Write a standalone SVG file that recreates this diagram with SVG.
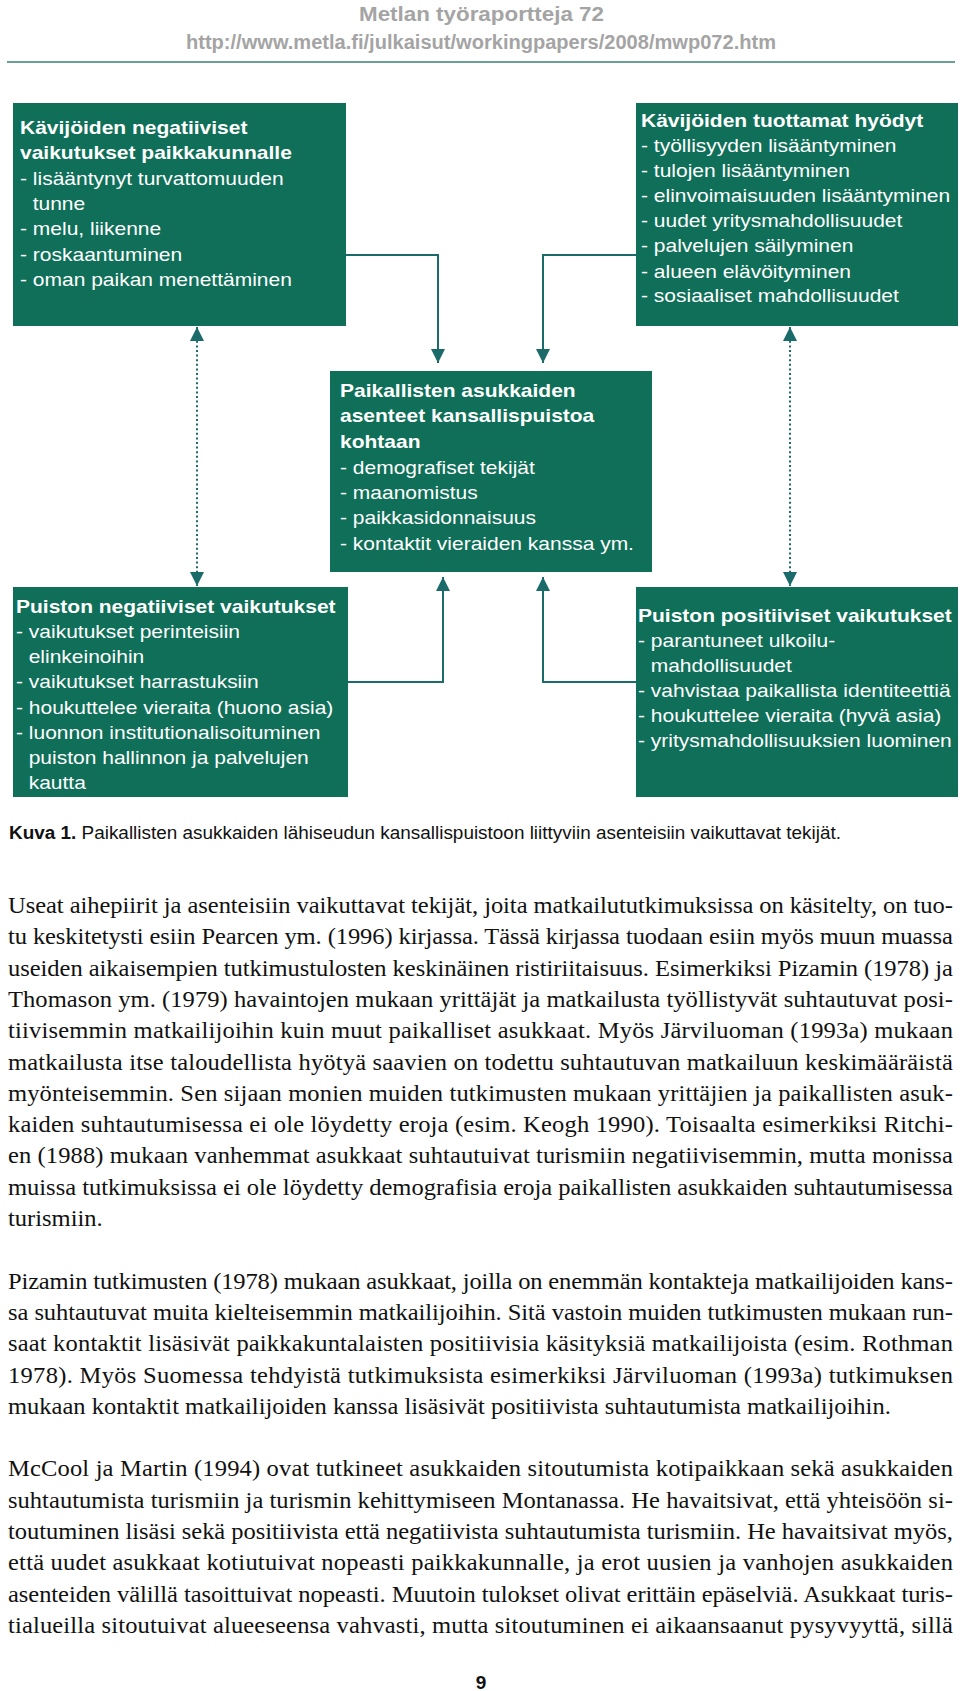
<svg xmlns="http://www.w3.org/2000/svg" width="960" height="1691" viewBox="0 0 960 1691">
<style>
.bg{fill:#ffffff}
.box{fill:#0f6f58}
.t{font-family:"Liberation Sans",Arial,sans-serif;font-size:19px;fill:#ffffff}
.b{font-weight:bold}
.conn{fill:none;stroke:#1c6b6b;stroke-width:2}
.dot{stroke-dasharray:2 2.6}
.hdr{font-family:"Liberation Sans",Arial,sans-serif;font-weight:bold;font-size:19.5px;fill:#a4a4a4}
.cap{font-family:"Liberation Sans",Arial,sans-serif;font-size:17.5px;fill:#111111}
.body{font-family:"Liberation Serif","Times New Roman",serif;font-size:22.3px;fill:#111111}
</style>
<defs>
<marker id="ah" viewBox="0 0 14 14" refX="14" refY="7" markerWidth="14" markerHeight="14" markerUnits="userSpaceOnUse" orient="auto-start-reverse">
<path d="M0,0 L14,7 L0,14 Z" fill="#1c6b6b"/>
</marker>
</defs>
<rect class="bg" x="0" y="0" width="960" height="1691"/>

<g id="header">
<text class="hdr" x="359" y="21" textLength="245" lengthAdjust="spacingAndGlyphs">Metlan työraportteja 72</text>
<text class="hdr" x="186" y="49" textLength="590" lengthAdjust="spacingAndGlyphs">http://www.metla.fi/julkaisut/workingpapers/2008/mwp072.htm</text>
<line x1="7" y1="62" x2="955" y2="62" stroke="#3b7f72" stroke-width="1.5"/>
</g>

<g id="connectors">
<path class="conn" d="M346,255 H438 V363" marker-end="url(#ah)"/>
<path class="conn" d="M636,255 H543 V363" marker-end="url(#ah)"/>
<path class="conn" d="M348,682 H443 V577" marker-end="url(#ah)"/>
<path class="conn" d="M636,682 H543 V577" marker-end="url(#ah)"/>
<path class="conn dot" d="M197,327 V586" marker-start="url(#ah)" marker-end="url(#ah)"/>
<path class="conn dot" d="M790,327 V586" marker-start="url(#ah)" marker-end="url(#ah)"/>
</g>

<g id="node-visitors-negative">
<rect class="box" x="13" y="103" width="333" height="223"/>
<g class="t" transform="translate(20 0) scale(1.105 1)">
<text class="b" x="0" y="134">Kävijöiden negatiiviset</text>
<text class="b" x="0" y="159">vaikutukset paikkakunnalle</text>
<text x="0" y="185">- lisääntynyt turvattomuuden</text>
<text x="11.5" y="210">tunne</text>
<text x="0" y="235">- melu, liikenne</text>
<text x="0" y="261">- roskaantuminen</text>
<text x="0" y="286">- oman paikan menettäminen</text>
</g>
</g>

<g id="node-visitors-benefits">
<rect class="box" x="636" y="103" width="322" height="223"/>
<g class="t" transform="translate(641 0) scale(1.105 1)">
<text class="b" x="0" y="127">Kävijöiden tuottamat hyödyt</text>
<text x="0" y="152">- työllisyyden lisääntyminen</text>
<text x="0" y="177">- tulojen lisääntyminen</text>
<text x="0" y="202">- elinvoimaisuuden lisääntyminen</text>
<text x="0" y="227">- uudet yritysmahdollisuudet</text>
<text x="0" y="252">- palvelujen säilyminen</text>
<text x="0" y="278">- alueen elävöityminen</text>
<text x="0" y="302">- sosiaaliset mahdollisuudet</text>
</g>
</g>

<g id="node-attitudes">
<rect class="box" x="330" y="371" width="322" height="201"/>
<g class="t" transform="translate(340 0) scale(1.105 1)">
<text class="b" x="0" y="397">Paikallisten asukkaiden</text>
<text class="b" x="0" y="422">asenteet kansallispuistoa</text>
<text class="b" x="0" y="448">kohtaan</text>
<text x="0" y="474">- demografiset tekijät</text>
<text x="0" y="499">- maanomistus</text>
<text x="0" y="524">- paikkasidonnaisuus</text>
<text x="0" y="550">- kontaktit vieraiden kanssa ym.</text>
</g>
</g>

<g id="node-park-negative">
<rect class="box" x="13" y="587" width="335" height="210"/>
<g class="t" transform="translate(16 0) scale(1.105 1)">
<text class="b" x="0" y="613">Puiston negatiiviset vaikutukset</text>
<text x="0" y="638">- vaikutukset perinteisiin</text>
<text x="11.5" y="663">elinkeinoihin</text>
<text x="0" y="688">- vaikutukset harrastuksiin</text>
<text x="0" y="714">- houkuttelee vieraita (huono asia)</text>
<text x="0" y="739">- luonnon institutionalisoituminen</text>
<text x="11.5" y="764">puiston hallinnon ja palvelujen</text>
<text x="11.5" y="789">kautta</text>
</g>
</g>

<g id="node-park-positive">
<rect class="box" x="636" y="587" width="322" height="210"/>
<g class="t" transform="translate(638 0) scale(1.105 1)">
<text class="b" x="0" y="622">Puiston positiiviset vaikutukset</text>
<text x="0" y="647">- parantuneet ulkoilu-</text>
<text x="11.5" y="672">mahdollisuudet</text>
<text x="0" y="697">- vahvistaa paikallista identiteettiä</text>
<text x="0" y="722">- houkuttelee vieraita (hyvä asia)</text>
<text x="0" y="747">- yritysmahdollisuuksien luominen</text>
</g>
</g>

<g id="caption">
<text class="cap" x="9" y="839" textLength="832" lengthAdjust="spacingAndGlyphs"><tspan font-weight="bold">Kuva 1.</tspan> Paikallisten asukkaiden lähiseudun kansallispuistoon liittyviin asenteisiin vaikuttavat tekijät.</text>
</g>

<g id="body" class="body" transform="scale(1.1 1)">
<text x="7.27" y="913.1" textLength="859" lengthAdjust="spacing">Useat aihepiirit ja asenteisiin vaikuttavat tekijät, joita matkailututkimuksissa on käsitelty, on tuo-</text>
<text x="7.27" y="944.4" textLength="859" lengthAdjust="spacing">tu keskitetysti esiin Pearcen ym. (1996) kirjassa. Tässä kirjassa tuodaan esiin myös muun muassa</text>
<text x="7.27" y="975.7" textLength="859" lengthAdjust="spacing">useiden aikaisempien tutkimustulosten keskinäinen ristiriitaisuus. Esimerkiksi Pizamin (1978) ja</text>
<text x="7.27" y="1007" textLength="859" lengthAdjust="spacing">Thomason ym. (1979) havaintojen mukaan yrittäjät ja matkailusta työllistyvät suhtautuvat posi-</text>
<text x="7.27" y="1038.3" textLength="859" lengthAdjust="spacing">tiivisemmin matkailijoihin kuin muut paikalliset asukkaat. Myös Järviluoman (1993a) mukaan</text>
<text x="7.27" y="1069.6" textLength="859" lengthAdjust="spacing">matkailusta itse taloudellista hyötyä saavien on todettu suhtautuvan matkailuun keskimääräistä</text>
<text x="7.27" y="1100.9" textLength="859" lengthAdjust="spacing">myönteisemmin. Sen sijaan monien muiden tutkimusten mukaan yrittäjien ja paikallisten asuk-</text>
<text x="7.27" y="1132.2" textLength="859" lengthAdjust="spacing">kaiden suhtautumisessa ei ole löydetty eroja (esim. Keogh 1990). Toisaalta esimerkiksi Ritchi-</text>
<text x="7.27" y="1163.5" textLength="859" lengthAdjust="spacing">en (1988) mukaan vanhemmat asukkaat suhtautuivat turismiin negatiivisemmin, mutta monissa</text>
<text x="7.27" y="1194.8" textLength="859" lengthAdjust="spacing">muissa tutkimuksissa ei ole löydetty demografisia eroja paikallisten asukkaiden suhtautumisessa</text>
<text x="7.27" y="1226.1">turismiin.</text>
<text x="7.27" y="1288.7" textLength="859" lengthAdjust="spacing">Pizamin tutkimusten (1978) mukaan asukkaat, joilla on enemmän kontakteja matkailijoiden kans-</text>
<text x="7.27" y="1320" textLength="859" lengthAdjust="spacing">sa suhtautuvat muita kielteisemmin matkailijoihin. Sitä vastoin muiden tutkimusten mukaan run-</text>
<text x="7.27" y="1351.3" textLength="859" lengthAdjust="spacing">saat kontaktit lisäsivät paikkakuntalaisten positiivisia käsityksiä matkailijoista (esim. Rothman</text>
<text x="7.27" y="1382.6" textLength="859" lengthAdjust="spacing">1978). Myös Suomessa tehdyistä tutkimuksista esimerkiksi Järviluoman (1993a) tutkimuksen</text>
<text x="7.27" y="1413.9">mukaan kontaktit matkailijoiden kanssa lisäsivät positiivista suhtautumista matkailijoihin.</text>
<text x="7.27" y="1476.5" textLength="859" lengthAdjust="spacing">McCool ja Martin (1994) ovat tutkineet asukkaiden sitoutumista kotipaikkaan sekä asukkaiden</text>
<text x="7.27" y="1507.8" textLength="859" lengthAdjust="spacing">suhtautumista turismiin ja turismin kehittymiseen Montanassa. He havaitsivat, että yhteisöön si-</text>
<text x="7.27" y="1539.1" textLength="859" lengthAdjust="spacing">toutuminen lisäsi sekä positiivista että negatiivista suhtautumista turismiin. He havaitsivat myös,</text>
<text x="7.27" y="1570.4" textLength="859" lengthAdjust="spacing">että uudet asukkaat kotiutuivat nopeasti paikkakunnalle, ja erot uusien ja vanhojen asukkaiden</text>
<text x="7.27" y="1601.7" textLength="859" lengthAdjust="spacing">asenteiden välillä tasoittuivat nopeasti. Muutoin tulokset olivat erittäin epäselviä. Asukkaat turis-</text>
<text x="7.27" y="1633" textLength="859" lengthAdjust="spacing">tialueilla sitoutuivat alueeseensa vahvasti, mutta sitoutuminen ei aikaansaanut pysyvyyttä, sillä</text>
</g>

<g id="page-number">
<text x="481" y="1689" text-anchor="middle" font-family="Liberation Sans, Arial, sans-serif" font-weight="bold" font-size="19" fill="#111111">9</text>
</g>
</svg>
